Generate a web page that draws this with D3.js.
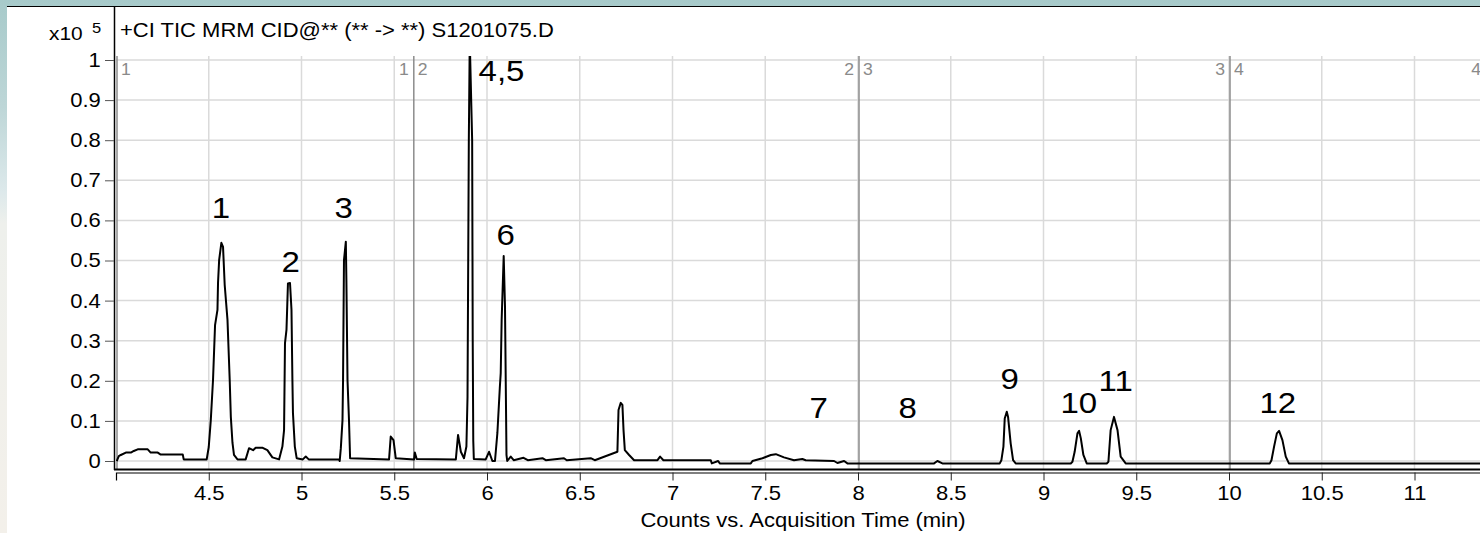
<!DOCTYPE html>
<html>
<head>
<meta charset="utf-8">
<script src="https://cdn.jsdelivr.net/npm/d3@7"></script>
<style>
  html, body { margin: 0; padding: 0; }
  body {
    width: 1480px; height: 533px; overflow: hidden;
    background: linear-gradient(to bottom, #a7caca 0%, #bdd6d7 20%, #dde9eb 36%, #eef0ec 42%, #f3f0ea 100%);
  }
  svg { display: block; font-family: "Liberation Sans", Arial, sans-serif; }
</style>
</head>
<body>
<div id="chart"></div>
<script>
const width = 1480;
const height = 533;

// TIC trace: acquisition time (min)
const times = [
  4.004, 4.015, 4.026, 4.053, 4.080, 4.096, 4.117, 4.171, 4.187, 4.225,
  4.241, 4.360, 4.365, 4.489, 4.500, 4.511, 4.523, 4.534, 4.547, 4.550,
  4.556, 4.568, 4.577, 4.586, 4.601, 4.609, 4.613, 4.619, 4.628, 4.636,
  4.655, 4.699, 4.717, 4.739, 4.753, 4.791, 4.816, 4.843, 4.879, 4.897,
  4.906, 4.911, 4.919, 4.927, 4.938, 4.946, 4.951, 4.954, 4.964, 4.974,
  5.007, 5.023, 5.039, 5.202, 5.206, 5.212, 5.221, 5.224, 5.229, 5.239,
  5.242, 5.248, 5.256, 5.262, 5.472, 5.481, 5.496, 5.508, 5.607, 5.611,
  5.621, 5.832, 5.844, 5.859, 5.876, 5.889, 5.895, 5.902, 5.907, 5.920,
  5.923, 5.926, 5.929, 5.993, 6.011, 6.029, 6.043, 6.056, 6.069, 6.074,
  6.079, 6.090, 6.097, 6.105, 6.109, 6.128, 6.144, 6.197, 6.220, 6.299,
  6.317, 6.415, 6.430, 6.559, 6.581, 6.703, 6.709, 6.721, 6.730, 6.736,
  6.743, 6.766, 6.793, 6.919, 6.933, 6.951, 7.206, 7.212, 7.246, 7.255,
  7.422, 7.431, 7.485, 7.530, 7.557, 7.601, 7.655, 7.700, 7.718, 7.871,
  7.889, 7.925, 7.943, 8.410, 8.428, 8.455, 8.764, 8.773, 8.784, 8.791,
  8.802, 8.809, 8.823, 8.836, 8.850, 9.147, 9.156, 9.168, 9.183, 9.192,
  9.201, 9.215, 9.233, 9.341, 9.350, 9.362, 9.380, 9.399, 9.416, 9.443,
  10.220, 10.229, 10.243, 10.258, 10.270, 10.288, 10.306, 10.323, 12.0
];

// TIC trace: counts (x10^5)
const counts = [
  0.000, 0.012, 0.015, 0.021, 0.021, 0.025, 0.029, 0.029, 0.021, 0.021,
  0.016, 0.016, 0.004, 0.004, 0.035, 0.102, 0.202, 0.339, 0.377, 0.444,
  0.501, 0.544, 0.534, 0.439, 0.352, 0.252, 0.202, 0.110, 0.045, 0.015,
  0.004, 0.004, 0.032, 0.027, 0.033, 0.033, 0.027, 0.009, 0.004, 0.036,
  0.077, 0.294, 0.327, 0.443, 0.444, 0.377, 0.202, 0.119, 0.036, 0.007,
  0.004, 0.011, 0.004, 0.004, 0.000, 0.032, 0.102, 0.202, 0.501, 0.547,
  0.451, 0.202, 0.102, 0.007, 0.004, 0.061, 0.052, 0.007, 0.004, 0.021,
  0.005, 0.004, 0.065, 0.023, 0.007, 0.036, 0.160, 0.800, 1.050, 0.800,
  0.302, 0.050, 0.005, 0.004, 0.023, 0.000, 0.000, 0.070, 0.182, 0.219,
  0.352, 0.511, 0.385, 0.015, 0.000, 0.011, 0.002, 0.008, 0.002, 0.007,
  0.002, 0.007, 0.002, 0.007, 0.002, 0.023, 0.127, 0.145, 0.140, 0.077,
  0.027, 0.015, 0.002, 0.002, 0.011, 0.002, 0.002, -0.006, 0.000, -0.006,
  -0.006, 0.000, 0.007, 0.015, 0.017, 0.009, 0.002, 0.005, 0.002, 0.000,
  -0.005, 0.000, -0.006, -0.006, 0.000, -0.006, -0.006, 0.002, 0.036, 0.106,
  0.123, 0.110, 0.044, 0.002, -0.006, -0.006, -0.002, 0.023, 0.069, 0.075,
  0.057, 0.015, -0.006, -0.006, -0.002, 0.077, 0.110, 0.077, 0.011, -0.006,
  -0.006, 0.002, 0.036, 0.069, 0.075, 0.052, 0.011, -0.006, -0.006
];

const xTickValues = [4.5, 5, 5.5, 6, 6.5, 7, 7.5, 8, 8.5, 9, 9.5, 10, 10.5, 11];
const yTickValues = [0, 0.1, 0.2, 0.3, 0.4, 0.5, 0.6, 0.7, 0.8, 0.9, 1];

// peak annotations
const peakNames = ["1", "2", "3", "4,5", "6", "7", "8", "9", "10", "11", "12"];
const peakNameTimes = [4.565, 4.942, 5.228, 6.078, 6.101, 7.788, 8.268, 8.818, 9.190, 9.389, 10.263];
const peakNameCounts = [0.606, 0.472, 0.606, 0.948, 0.539, 0.107, 0.107, 0.180, 0.120, 0.175, 0.120];

// MRM time segments (boundaries)
const segmentBounds = [4.0, 5.6, 8.0, 10.0, 11.38];

const titleText = "+CI TIC MRM CID@** (** -> **) S1201075.D";
const xTitle = "Counts vs. Acquisition Time (min)";

const stretch = 1.1; // text in the picture is slightly wide

const svg = d3.select("#chart")
    .append("svg")
    .attr("width", width)
    .attr("height", height);

// white panel
svg.append("rect")
    .attr("x", 7).attr("y", 6)
    .attr("width", width - 7).attr("height", height - 6)
    .attr("fill", "#fff");
svg.append("line")
    .attr("x1", 7).attr("x2", width).attr("y1", 6.5).attr("y2", 6.5)
    .attr("stroke", "#000").attr("stroke-width", 1);

const x = d3.scaleLinear().domain([4.0, 12.0]).range([116, 116 + 8 * 185.5]);
const y = d3.scaleLinear().domain([0, 1]).range([461, 60]);
const plotTop = y(1.01);
const plotBottom = 469;

// grid
svg.append("g")
    .selectAll("line")
    .data(yTickValues)
    .join("line")
    .attr("x1", 116).attr("x2", width)
    .attr("y1", d => y(d)).attr("y2", d => y(d))
    .attr("stroke", "#dadada").attr("stroke-width", 1.5);

svg.append("g")
    .selectAll("line")
    .data(xTickValues)
    .join("line")
    .attr("x1", d => x(d)).attr("x2", d => x(d))
    .attr("y1", plotTop).attr("y2", plotBottom)
    .attr("stroke", "#dadada").attr("stroke-width", 1.5);

// segment boundaries
svg.append("g")
    .selectAll("line")
    .data(segmentBounds)
    .join("line")
    .attr("x1", d => x(d) + 1).attr("x2", d => x(d) + 1)
    .attr("y1", plotTop).attr("y2", plotBottom)
    .attr("stroke", "#8c8c8c").attr("stroke-width", 1.5);

const segLabels = svg.append("g")
    .attr("fill", "#8a8a8a")
    .attr("font-size", 16);
segmentBounds.forEach((b, i) => {
    if (i > 0) {
        segLabels.append("text")
            .attr("transform", `translate(${x(b) - 4},75) scale(${stretch},1)`)
            .attr("text-anchor", "end")
            .text(i);
    }
    segLabels.append("text")
        .attr("transform", `translate(${x(b) + 5},75) scale(${stretch},1)`)
        .text(i + 1);
});

// trace
svg.append("clipPath")
    .attr("id", "plotClip")
    .append("rect")
    .attr("x", 116).attr("y", plotTop)
    .attr("width", width).attr("height", plotBottom - plotTop);

const line = d3.line()
    .x(i => x(times[i]))
    .y(i => y(counts[i]));

svg.append("path")
    .attr("clip-path", "url(#plotClip)")
    .attr("d", line(d3.range(times.length)))
    .attr("fill", "none")
    .attr("stroke", "#000")
    .attr("stroke-width", 2)
    .attr("stroke-linejoin", "round");

// frame
svg.append("line")
    .attr("x1", 114.5).attr("x2", 114.5).attr("y1", 6).attr("y2", 470)
    .attr("stroke", "#000").attr("stroke-width", 1.5);
svg.append("line")
    .attr("x1", 114).attr("x2", width).attr("y1", 469.5).attr("y2", 469.5)
    .attr("stroke", "#000").attr("stroke-width", 2);

// axes
const xAxis = svg.append("g")
    .attr("transform", "translate(0,472.5)")
    .call(d3.axisBottom(x).tickValues(xTickValues).tickSize(8).tickPadding(5).tickFormat(d => String(d)));
xAxis.select(".domain").attr("stroke", "#000").attr("stroke-width", 1.2);
xAxis.selectAll(".tick line").attr("stroke", "#222");
xAxis.selectAll("text")
    .attr("font-size", 20)
    .attr("fill", "#000")
    .attr("transform", `scale(${stretch},1)`);

const yAxis = svg.append("g")
    .attr("transform", "translate(114,0)")
    .call(d3.axisLeft(y).tickValues(yTickValues).tickSize(9).tickPadding(3).tickFormat(d => String(d)));
yAxis.select(".domain").remove();
yAxis.selectAll(".tick line").attr("stroke", "#555");
yAxis.selectAll("text")
    .attr("font-size", 20)
    .attr("fill", "#000")
    .attr("transform", `scale(${stretch},1)`);

// exponent
svg.append("text")
    .attr("transform", `translate(49,40) scale(${stretch},1)`)
    .attr("font-size", 19)
    .text("x10");
svg.append("text")
    .attr("transform", `translate(92,33) scale(${stretch},1)`)
    .attr("font-size", 15)
    .text("5");

// title
svg.append("text")
    .attr("transform", `translate(120,37) scale(${stretch},1)`)
    .attr("font-size", 20)
    .text(titleText);

svg.append("text")
    .attr("transform", `translate(803,527) scale(${stretch},1)`)
    .attr("text-anchor", "middle")
    .attr("font-size", 20)
    .text(xTitle);

// peak labels
svg.append("g")
    .selectAll("text")
    .data(peakNames)
    .join("text")
    .attr("transform", (d, i) => `translate(${x(peakNameTimes[i])},${y(peakNameCounts[i])}) scale(${stretch},1)`)
    .attr("text-anchor", "middle")
    .attr("font-size", 30)
    .text(d => d);
</script>
</body>
</html>
